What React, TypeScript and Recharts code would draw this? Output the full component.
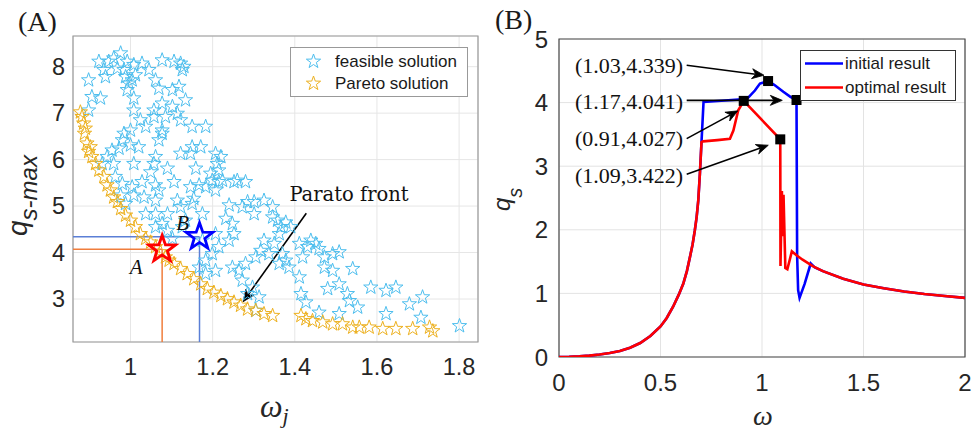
import React from 'react';
import {
  ScatterChart,
  ComposedChart,
  Scatter,
  Line,
  XAxis,
  YAxis,
  CartesianGrid,
  ReferenceLine,
  ReferenceArea,
  ReferenceDot,
  Legend,
} from 'recharts';

// ---------------- Panel (A) data ----------------
const feasibleSolutions: [number, number][] = [
  [0.976, 8.29], [0.959, 8.18], [0.923, 8.11], [0.947, 8.11], [0.992, 8.11], [1.008, 8.04], [1.028, 8.07],
  [1.045, 7.93], [1.077, 8.14], [1.106, 8.11], [1.122, 8.07], [1.13, 8.0], [1.126, 7.93],
  [0.898, 7.71], [0.939, 7.78], [0.988, 7.78], [1.004, 7.71], [1.012, 7.82], [0.984, 7.93], [1.061, 7.71],
  [1.069, 7.53], [1.102, 7.5], [0.906, 7.35], [0.927, 7.32], [0.992, 7.5], [1.008, 7.32],
  [0.898, 7.06], [1.008, 7.06], [1.057, 7.06], [1.077, 7.21], [1.102, 7.14], [1.114, 6.99], [1.134, 7.28],
  [1.122, 6.85], [1.15, 6.71], [1.183, 6.71], [1.077, 6.63], [1.057, 6.92], [1.024, 6.85], [1.0, 6.63],
  [0.984, 6.56], [0.98, 6.42], [1.0, 6.31], [1.069, 6.42], [1.077, 6.56],
  [0.955, 6.2], [0.972, 6.24], [0.943, 6.06], [0.959, 5.91], [1.008, 5.91], [1.057, 5.91], [1.061, 6.06],
  [1.09, 5.81], [1.122, 6.13], [1.146, 6.13], [1.171, 6.27], [1.159, 5.81], [1.15, 6.27], [1.207, 6.13],
  [1.22, 6.06], [1.211, 5.91], [1.215, 5.77], [1.199, 5.55], [1.215, 5.52], [1.224, 5.55], [1.183, 5.41],
  [1.207, 5.34], [1.146, 5.41], [1.106, 5.52], [1.061, 5.45], [1.004, 5.41], [0.98, 5.48], [0.963, 5.63],
  [1.028, 5.52], [0.931, 5.91], [0.976, 5.23], [1.008, 5.23], [1.061, 5.12], [1.114, 5.12], [1.154, 5.16],
  [1.122, 4.98], [1.037, 4.83], [1.061, 4.83], [1.09, 4.83], [1.175, 4.83], [1.134, 4.69], [1.061, 4.55],
  [1.077, 4.62], [0.988, 5.05],
  [1.26, 5.55], [1.28, 5.52], [1.272, 4.98], [1.285, 5.09], [1.301, 4.83], [1.301, 5.09], [1.325, 5.12],
  [1.346, 4.98], [1.346, 4.76], [1.358, 4.69], [1.24, 5.02], [1.232, 4.73], [1.248, 4.62], [1.252, 4.4],
  [1.24, 4.26], [1.207, 4.4], [1.175, 4.26], [1.215, 4.12], [1.199, 3.97], [1.183, 3.83], [1.167, 3.68],
  [1.183, 3.54], [1.207, 3.61], [1.248, 3.68], [1.264, 3.61], [1.28, 3.76], [1.272, 3.4], [1.305, 3.9],
  [1.317, 4.04], [1.325, 4.26], [1.337, 3.97], [1.35, 4.19], [1.362, 4.4], [1.366, 4.55], [1.378, 4.65],
  [1.39, 4.55], [1.37, 3.97], [1.378, 3.83], [1.362, 3.76], [1.386, 3.68], [1.411, 4.19], [1.411, 3.47],
  [1.415, 3.11], [1.427, 2.93], [1.419, 3.9], [1.431, 4.12], [1.439, 4.26], [1.451, 4.19], [1.459, 4.08],
  [1.472, 3.9], [1.472, 3.68], [1.492, 3.97], [1.508, 4.01], [1.492, 3.61], [1.48, 3.22], [1.508, 3.32],
  [1.541, 3.65], [1.528, 3.11], [1.533, 2.96], [1.553, 2.82], [1.585, 3.25], [1.622, 3.18], [1.646, 3.25],
  [1.679, 2.89], [1.711, 3.04], [1.622, 2.68], [1.707, 2.6], [1.801, 2.42], [1.297, 3.25], [1.285, 3.11],
  [1.313, 3.04], [1.305, 2.75], [1.459, 2.71], [1.508, 2.68], [1.252, 5.52], [1.126, 4.55], [1.102, 4.3],
  [1.09, 4.47], [1.15, 5.05],
  [1.167, 5.45], [1.195, 5.7], [1.069, 5.34], [1.033, 5.19], [1.049, 5.73], [1.02, 6.27], [1.037, 6.71],
  [1.085, 6.92], [1.118, 7.57], [0.996, 7.64], [0.968, 7.96], [0.935, 7.93],
];

const paretoSolutions: [number, number][] = [
  [0.878, 7.02], [0.882, 6.92], [0.886, 6.78], [0.89, 6.67], [0.888, 6.56], [0.894, 6.35], [0.902, 6.27],
  [0.898, 6.17], [0.906, 6.06], [0.915, 5.91], [0.923, 5.77], [0.935, 5.63], [0.943, 5.45], [0.951, 5.34],
  [0.959, 5.19], [0.968, 5.09], [0.976, 4.94], [0.988, 4.8], [1.0, 4.69], [1.012, 4.55], [1.024, 4.4],
  [1.037, 4.3], [1.049, 4.22], [1.061, 4.12], [1.073, 4.01], [1.085, 3.9], [1.094, 3.83], [1.106, 3.76],
  [1.122, 3.65], [1.138, 3.54], [1.154, 3.43], [1.171, 3.32], [1.187, 3.22], [1.203, 3.14], [1.22, 3.07],
  [1.236, 3.0], [1.252, 2.93], [1.268, 2.86], [1.285, 2.78], [1.305, 2.75], [1.325, 2.68], [1.346, 2.64],
  [1.415, 2.64], [1.427, 2.57], [1.443, 2.53], [1.468, 2.5], [1.492, 2.46], [1.516, 2.46], [1.541, 2.39],
  [1.557, 2.39], [1.581, 2.39], [1.614, 2.36], [1.646, 2.36], [1.687, 2.36], [1.728, 2.39], [1.736, 2.31],
];

const pointA: [number, number] = [1.077, 4.07];
const pointB: [number, number] = [1.168, 4.34];
const aXTicks = [1, 1.2, 1.4, 1.6, 1.8];
const aYTicks = [3, 4, 5, 6, 7, 8];
const aXDomain: [number, number] = [0.86, 1.846];
const aYDomain: [number, number] = [2.075, 8.66];
const aLegendLabels = ['feasible solution', 'Pareto solution'];
const frontLabel = 'Parato front';
const frontLabelPos: [number, number] = [1.532, 5.24];
const frontArrow: [number, number][] = [[1.428, 4.845], [1.274, 2.94]];

// ---------------- Panel (B) data ----------------
const initialW = [
  0, 0.05, 0.1, 0.15, 0.2, 0.25, 0.3, 0.35, 0.4, 0.45, 0.5, 0.53, 0.562, 0.59, 0.612, 0.63, 0.645, 0.658, 0.669,
  0.678, 0.686, 0.694, 0.702, 0.712, 0.8, 0.9, 0.93, 0.965, 0.99, 1.03, 1.06, 1.105, 1.14, 1.17, 1.173, 1.178,
  1.185, 1.21, 1.24, 1.26, 1.3, 1.4, 1.5, 1.6, 1.7, 1.8, 1.9, 2.0,
];
const initialQ = [
  0, 0.003, 0.01, 0.022, 0.04, 0.064, 0.095, 0.145, 0.22, 0.33, 0.48, 0.61, 0.79, 0.98, 1.15, 1.35, 1.57, 1.77, 1.99,
  2.2, 2.46, 2.88, 3.38, 4.01, 4.03, 4.05, 4.07, 4.19, 4.3, 4.339, 4.28, 4.17, 4.09, 4.041, 1.6, 1.05,
  0.93, 1.15, 1.47, 1.41, 1.35, 1.23, 1.14, 1.08, 1.03, 0.99, 0.96, 0.93,
];
const optimalW = [
  0, 0.05, 0.1, 0.15, 0.2, 0.25, 0.3, 0.35, 0.4, 0.45, 0.5, 0.53, 0.562, 0.59, 0.612, 0.63, 0.645, 0.658, 0.669,
  0.678, 0.686, 0.694, 0.702, 0.71, 0.78, 0.842, 0.859, 0.883, 0.91, 1.09, 1.091, 1.098, 1.102, 1.106, 1.115,
  1.125, 1.147, 1.17, 1.2, 1.25, 1.3, 1.4, 1.5, 1.6, 1.7, 1.8, 1.9, 2.0,
];
const optimalQ = [
  0, 0.003, 0.01, 0.022, 0.04, 0.064, 0.095, 0.145, 0.22, 0.33, 0.48, 0.61, 0.79, 0.98, 1.15, 1.35, 1.57, 1.77, 1.99,
  2.2, 2.46, 2.88, 3.38, 3.39, 3.41, 3.43, 3.56, 3.88, 4.027, 3.422, 1.43, 2.61, 1.9, 2.55, 1.4,
  1.38, 1.66, 1.6, 1.53, 1.43, 1.35, 1.23, 1.14, 1.08, 1.03, 0.99, 0.96, 0.93,
];
const markedW = [1.03, 1.17, 0.91, 1.09];
const markedQ = [4.339, 4.041, 4.027, 3.422];
const markLabels = ['(1.03,4.339)', '(1.17,4.041)', '(0.91,4.027)', '(1.09,3.422)'];
const markLabelAnchors: [number, number][] = [[0.611, 4.587], [0.611, 4.02], [0.611, 3.443], [0.611, 2.857]];
const markArrows: [number, number][][] = [
  [[0.629, 4.586], [1.01, 4.43]],
  [[0.629, 4.035], [1.1, 4.035]],
  [[0.629, 3.434], [0.881, 3.87]],
  [[0.629, 2.873], [1.031, 3.33]],
];
const bXTicks = [0, 0.5, 1, 1.5, 2];
const bYTicks = [0, 1, 2, 3, 4, 5];
const bXDomain: [number, number] = [0, 2];
const bYDomain: [number, number] = [0, 5];
const bLegendLabels = ['initial result', 'optimal result'];

// ---------------- styles ----------------
const FEAS = '#4DBEEE';
const PARETO = '#EDB120';
const SANS = '"Liberation Sans", Arial, sans-serif';
const SERIF = '"Liberation Serif", "Times New Roman", serif';
const B_OFF = 20; // extra left room inside panel B's chart

const toXY = (pts: [number, number][]) => pts.map(([x, y]) => ({ x, y }));
const zipXY = (xs: number[], ys: number[]) => xs.map((x, i) => ({ x, y: ys[i] }));

function starPath(cx: number, cy: number, r: number) {
  const pts: string[] = [];
  for (let i = 0; i < 10; i++) {
    const ang = (-90 + i * 36) * (Math.PI / 180);
    const rr = i % 2 === 0 ? r : r * 0.4;
    pts.push(`${(cx + rr * Math.cos(ang)).toFixed(2)},${(cy + rr * Math.sin(ang)).toFixed(2)}`);
  }
  return `M${pts.join('L')}Z`;
}

const makeStar = (color: string, r: number, sw: number) => (p: any) => (
  <path d={starPath(p.cx, p.cy, r)} fill="none" stroke={color} strokeWidth={sw} strokeLinejoin="miter" />
);

const Arrow = (props: any) => {
  const { x1, y1, x2, y2 } = props;
  const dx = x2 - x1;
  const dy = y2 - y1;
  const len = Math.hypot(dx, dy) || 1;
  const ux = dx / len;
  const uy = dy / len;
  const hl = 12;
  const hw = 5;
  const bx = x2 - ux * hl;
  const by = y2 - uy * hl;
  const nx = x2 - ux * hl * 0.7;
  const ny = y2 - uy * hl * 0.7;
  return (
    <g>
      <line x1={x1} y1={y1} x2={nx} y2={ny} stroke="#000" strokeWidth={1.6} />
      <polygon
        points={`${x2},${y2} ${bx - uy * hw},${by + ux * hw} ${nx},${ny} ${bx + uy * hw},${by - ux * hw}`}
        fill="#000"
        stroke="#000"
        strokeWidth={0.8}
      />
    </g>
  );
};

const PlainLine = (color: string, w: number) => (props: any) => (
  <line x1={props.x1} y1={props.y1} x2={props.x2} y2={props.y2} stroke={color} strokeWidth={w} />
);

const textShape = (txt: string, opts: any) => (p: any) => (
  <text x={p.cx} y={p.cy} {...opts}>
    {txt}
  </text>
);

const squareShape = (p: any) => <rect x={p.cx - 5} y={p.cy - 5} width={10} height={10} fill="#000" />;

// ---------------- Panel A ----------------
function PanelA() {
  const feas = toXY(feasibleSolutions);
  const par = toXY(paretoSolutions);
  return (
    <ScatterChart width={490} height={431} margin={{ top: 36, right: 12, bottom: 59, left: 0 }}>
      <CartesianGrid stroke="#e6e6e6" strokeWidth={1} />
      <XAxis
        type="number"
        dataKey="x"
        domain={aXDomain}
        ticks={aXTicks}
        interval={0}
        allowDataOverflow
        height={30}
        axisLine={false}
        tickLine={false}
        tickMargin={10}
        tickFormatter={(v: number) => String(v)}
        tick={{ fontSize: 23.5, fontFamily: SANS, fill: '#262626' }}
        label={() => (
          <text x={260} y={417} fontFamily={SERIF} fontStyle="italic" fontSize={32} fill="#262626">
            ω<tspan dy={6} fontSize={22}>j</tspan>
          </text>
        )}
      />
      <YAxis
        type="number"
        dataKey="y"
        domain={aYDomain}
        ticks={aYTicks}
        interval={0}
        allowDataOverflow
        width={73}
        axisLine={false}
        tickLine={false}
        tick={{ fontSize: 23.5, fontFamily: SANS, fill: '#262626' }}
        label={() => (
          <g>
            <text x={18} y={31} fontFamily={SERIF} fontSize={28} fill="#1a1a1a">
              (A)
            </text>
            <g transform="translate(27,236) rotate(-90)">
              <text x={0} y={0} fontFamily={SANS} fontStyle="italic" fontSize={28} fill="#262626">
                q<tspan dy={10} fontSize={24}>s-max</tspan>
              </text>
            </g>
          </g>
        )}
      />
      <ReferenceLine
        segment={[{ x: aXDomain[0], y: pointB[1] }, { x: pointB[0], y: pointB[1] }]}
        shape={PlainLine('#5B7FD6', 1.5)}
        ifOverflow="visible"
      />
      <ReferenceLine
        segment={[{ x: pointB[0], y: aYDomain[0] }, { x: pointB[0], y: pointB[1] }]}
        shape={PlainLine('#5B7FD6', 1.5)}
        ifOverflow="visible"
      />
      <ReferenceLine
        segment={[{ x: aXDomain[0], y: pointA[1] }, { x: pointA[0], y: pointA[1] }]}
        shape={PlainLine('#F07D3C', 1.5)}
        ifOverflow="visible"
      />
      <ReferenceLine
        segment={[{ x: pointA[0], y: aYDomain[0] }, { x: pointA[0], y: pointA[1] }]}
        shape={PlainLine('#F07D3C', 1.5)}
        ifOverflow="visible"
      />
      <Scatter data={feas} shape={makeStar(FEAS, 7.5, 1)} isAnimationActive={false} />
      <Scatter data={par} shape={makeStar(PARETO, 7.5, 1)} isAnimationActive={false} />
      <Scatter data={[{ x: pointA[0], y: pointA[1] }]} shape={makeStar('#FF0000', 14, 2.8)} isAnimationActive={false} />
      <Scatter data={[{ x: pointB[0], y: pointB[1] }]} shape={makeStar('#0000FF', 14, 2.8)} isAnimationActive={false} />
      <ReferenceDot
        x={1.014}
        y={3.695}
        r={1}
        ifOverflow="visible"
        shape={textShape('A', { fontFamily: SERIF, fontStyle: 'italic', fontSize: 21, fill: '#111', textAnchor: 'middle', dominantBaseline: 'central' })}
      />
      <ReferenceDot
        x={1.127}
        y={4.63}
        r={1}
        ifOverflow="visible"
        shape={textShape('B', { fontFamily: SERIF, fontStyle: 'italic', fontSize: 21, fill: '#111', textAnchor: 'middle', dominantBaseline: 'central' })}
      />
      <ReferenceDot
        x={frontLabelPos[0]}
        y={frontLabelPos[1]}
        r={1}
        ifOverflow="visible"
        shape={textShape(frontLabel, { fontFamily: '"DejaVu Serif", serif', fontSize: 19.5, fill: '#111', textAnchor: 'middle', dominantBaseline: 'central' })}
      />
      <ReferenceLine
        segment={[{ x: frontArrow[0][0], y: frontArrow[0][1] }, { x: frontArrow[1][0], y: frontArrow[1][1] }]}
        shape={Arrow}
        ifOverflow="visible"
      />
      <ReferenceArea
        x1={aXDomain[0]}
        x2={aXDomain[1]}
        y1={aYDomain[0]}
        y2={aYDomain[1]}
        fill="none"
        fillOpacity={0}
        stroke="#9a9a9a"
        strokeWidth={1.2}
        ifOverflow="visible"
      />
      <Legend
        layout="horizontal"
        verticalAlign="middle"
        align="center"
        wrapperStyle={{ position: 'absolute', left: 290, top: 47, width: 178, height: 50, margin: 0, padding: 0 }}
        content={() => (
          <svg width={178} height={50} style={{ display: 'block' }}>
            <rect x={0.5} y={0.5} width={177} height={49} fill="#fff" stroke="#999" />
            <path d={starPath(23.5, 14.5, 7.5)} fill="none" stroke={FEAS} />
            <text x={45} y={14.5} dominantBaseline="central" fontFamily={SANS} fontSize={17} fill="#1a1a1a">
              {aLegendLabels[0]}
            </text>
            <path d={starPath(23.5, 36.5, 7.5)} fill="none" stroke={PARETO} />
            <text x={45} y={36.5} dominantBaseline="central" fontFamily={SANS} fontSize={17} fill="#1a1a1a">
              {aLegendLabels[1]}
            </text>
          </svg>
        )}
      />
    </ScatterChart>
  );
}

// ---------------- Panel B ----------------
function PanelB() {
  const initial = zipXY(initialW, initialQ);
  const optimal = zipXY(optimalW, optimalQ);
  const marks = zipXY(markedW, markedQ);
  return (
    <ComposedChart width={483 + B_OFF} height={431} margin={{ top: 39, right: 8, bottom: 44, left: 0 }}>
      <CartesianGrid stroke="#e3e3e3" strokeWidth={1} />
      <XAxis
        type="number"
        dataKey="x"
        domain={bXDomain}
        ticks={bXTicks}
        interval={0}
        allowDataOverflow
        height={30}
        axisLine={false}
        tickLine={false}
        tickMargin={11}
        tick={{ fontSize: 24, fontFamily: SANS, fill: '#262626' }}
        label={() => (
          <text x={273 + B_OFF} y={425} textAnchor="middle" fontFamily={SERIF} fontStyle="italic" fontSize={28} fill="#262626">
            ω
          </text>
        )}
      />
      <YAxis
        type="number"
        domain={bYDomain}
        ticks={bYTicks}
        interval={0}
        allowDataOverflow
        width={69 + B_OFF}
        axisLine={false}
        tickLine={false}
        tickMargin={5}
        tick={{ fontSize: 24, fontFamily: SANS, fill: '#262626' }}
        label={() => (
          <g>
            <text x={5 + B_OFF} y={29} fontFamily={SERIF} fontSize={28} fill="#1a1a1a">
              (B)
            </text>
            <g transform={`translate(${20 + B_OFF},211) rotate(-90)`}>
              <text x={0} y={0} fontFamily={SANS} fontStyle="italic" fontSize={24} fill="#262626">
                q<tspan dy={12} fontSize={20}>s</tspan>
              </text>
            </g>
          </g>
        )}
      />
      <Line data={initial} dataKey="y" type="linear" stroke="#0000FF" strokeWidth={2.6} dot={false} isAnimationActive={false} />
      <Line data={optimal} dataKey="y" type="linear" stroke="#FF0000" strokeWidth={2.6} dot={false} isAnimationActive={false} />
      <Scatter data={marks} dataKey="y" shape={squareShape} isAnimationActive={false} />
      {markLabels.map((lbl, i) => (
        <ReferenceDot
          key={'l' + i}
          x={markLabelAnchors[i][0]}
          y={markLabelAnchors[i][1]}
          r={1}
          ifOverflow="visible"
          shape={textShape(lbl, { fontFamily: SERIF, fontSize: 22, fill: '#111', textAnchor: 'end', dominantBaseline: 'central' })}
        />
      ))}
      {markArrows.map((a, i) => (
        <ReferenceLine
          key={'a' + i}
          segment={[{ x: a[0][0], y: a[0][1] }, { x: a[1][0], y: a[1][1] }]}
          shape={Arrow}
          ifOverflow="visible"
        />
      ))}
      <ReferenceArea
        x1={bXDomain[0]}
        x2={bXDomain[1]}
        y1={bYDomain[0]}
        y2={bYDomain[1]}
        fill="none"
        fillOpacity={0}
        stroke="#4a4a4a"
        strokeWidth={1.2}
        ifOverflow="visible"
      />
      <Legend
        layout="horizontal"
        verticalAlign="middle"
        align="center"
        wrapperStyle={{ position: 'absolute', left: 310 + B_OFF, top: 50, width: 156, height: 51, margin: 0, padding: 0 }}
        content={() => (
          <svg width={156} height={51} style={{ display: 'block' }}>
            <rect x={0.5} y={0.5} width={155} height={50} fill="#fff" stroke="#333" />
            <line x1={5} y1={13.5} x2={43} y2={13.5} stroke="#0000FF" strokeWidth={2.6} />
            <text x={45} y={13.5} dominantBaseline="central" fontFamily={SANS} fontSize={17} fill="#1a1a1a">
              {bLegendLabels[0]}
            </text>
            <line x1={5} y1={37.5} x2={43} y2={37.5} stroke="#FF0000" strokeWidth={2.6} />
            <text x={45} y={37.5} dominantBaseline="central" fontFamily={SANS} fontSize={17} fill="#1a1a1a">
              {bLegendLabels[1]}
            </text>
          </svg>
        )}
      />
    </ComposedChart>
  );
}

export default function App() {
  return (
    <div style={{ position: 'absolute', left: 0, top: 0, width: 973, height: 431, background: '#fff', overflow: 'hidden' }}>
      <div style={{ position: 'absolute', left: 0, top: 0 }}>
        <PanelA />
      </div>
      <div style={{ position: 'absolute', left: 490 - B_OFF, top: 0 }}>
        <PanelB />
      </div>
    </div>
  );
}
